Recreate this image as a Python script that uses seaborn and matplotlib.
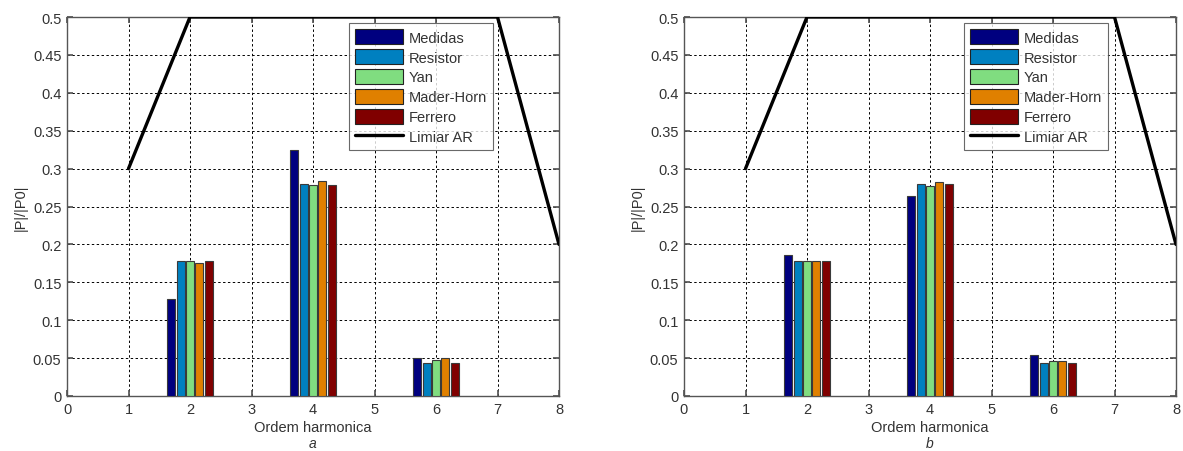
import numpy as np
import pandas as pd
import matplotlib
matplotlib.use("Agg")
import matplotlib.pyplot as plt
import seaborn as sns
from matplotlib.patches import Patch
from matplotlib.lines import Line2D

# ---- data ----
harmonics = [2, 4, 6]
series = ["Medidas", "Resistor", "Yan", "Mader-Horn", "Ferrero"]
colors = ["#00007F", "#0080C0", "#80DD80", "#E08000", "#800000"]

a_medidas = [0.128, 0.325, 0.0505]
a_resistor = [0.1785, 0.280, 0.0435]
a_yan = [0.178, 0.278, 0.047]
a_mader = [0.175, 0.283, 0.0497]
a_ferrero = [0.178, 0.279, 0.0435]

b_medidas = [0.1865, 0.264, 0.054]
b_resistor = [0.1785, 0.280, 0.0435]
b_yan = [0.1785, 0.2766, 0.0457]
b_mader = [0.1775, 0.282, 0.0457]
b_ferrero = [0.1785, 0.280, 0.0435]

limiar_x = [1, 2, 3, 4, 5, 6, 7, 8]
limiar_y = [0.3, 0.5, 0.5, 0.5, 0.5, 0.5, 0.5, 0.2]

xticks = [0, 1, 2, 3, 4, 5, 6, 7, 8]
yticks = [0, 0.05, 0.1, 0.15, 0.2, 0.25, 0.3, 0.35, 0.4, 0.45, 0.5]
ytick_labels = ["0", "0.05", "0.1", "0.15", "0.2", "0.25", "0.3", "0.35", "0.4", "0.45", "0.5"]

panels = [
    ("a", [a_medidas, a_resistor, a_yan, a_mader, a_ferrero]),
    ("b", [b_medidas, b_resistor, b_yan, b_mader, b_ferrero]),
]

sns.set_theme(style="white")
plt.rcParams["font.family"] = ["Liberation Sans", "DejaVu Sans"]
txt_color = "#333333"

fig = plt.figure(figsize=(11.83, 4.52), dpi=100)
lefts = [67 / 1183, 684 / 1183]
legend_right = [0.866, 0.862]

for i, (tag, vals) in enumerate(panels):
    ax = fig.add_axes([lefts[i], 55 / 452, 492 / 1183, 379 / 452])
    rows = []
    for s, v in zip(series, vals):
        for h, y in zip(harmonics, v):
            rows.append({"Ordem": h, "Serie": s, "val": y})
    df = pd.DataFrame(rows)
    sns.barplot(data=df, x="Ordem", y="val", hue="Serie", hue_order=series,
                palette=colors, saturation=1, native_scale=True, width=0.385,
                gap=0.15, edgecolor="#3a3a3a", linewidth=0.8, ax=ax,
                legend=False, errorbar=None, zorder=3)
    sns.lineplot(x=limiar_x, y=limiar_y, color="black", linewidth=2.4, ax=ax,
                 zorder=4)
    ax.set_xlim(0, 8)
    ax.set_ylim(0, 0.5)
    ax.set_xticks(xticks)
    ax.set_xticklabels([str(t) for t in xticks])
    ax.set_yticks(yticks)
    ax.set_yticklabels(ytick_labels)
    ax.grid(True, color="black", linestyle=(0, (2.5, 2.5)), linewidth=0.7, zorder=0)
    ax.set_axisbelow(True)
    for sp in ax.spines.values():
        sp.set_visible(True)
        sp.set_color("#555555")
        sp.set_linewidth(1.0)
    ax.tick_params(axis="both", direction="in", length=4, colors="#555555",
                   labelcolor=txt_color, labelsize=10.5, pad=4,
                   top=True, right=True, bottom=True, left=True)
    ax.set_xlabel("Ordem harmonica", fontsize=10.5, color=txt_color, labelpad=3)
    ax.set_ylabel("|P|/|P0|", fontsize=10.5, color=txt_color, labelpad=4)
    ax.text(0.5, -0.124, tag, transform=ax.transAxes, ha="center", va="center",
            fontsize=10, style="italic", color=txt_color)
    handles = [Patch(facecolor=c, edgecolor="#222222", linewidth=0.8) for c in colors]
    handles.append(Line2D([0], [0], color="black", linewidth=2.4))
    leg = ax.legend(handles, series + ["Limiar AR"], loc="upper right",
                    bbox_to_anchor=(legend_right[i], 0.984), borderaxespad=0,
                    fontsize=10.5, frameon=True, fancybox=False,
                    handlelength=3.3, handleheight=1.25, handletextpad=0.4,
                    labelspacing=0.3, borderpad=0.4)
    leg.get_frame().set_edgecolor("#444444")
    leg.get_frame().set_linewidth(0.8)
    leg.set_zorder(10)
    for t in leg.get_texts():
        t.set_color(txt_color)

fig.savefig("out.png", dpi=100)
